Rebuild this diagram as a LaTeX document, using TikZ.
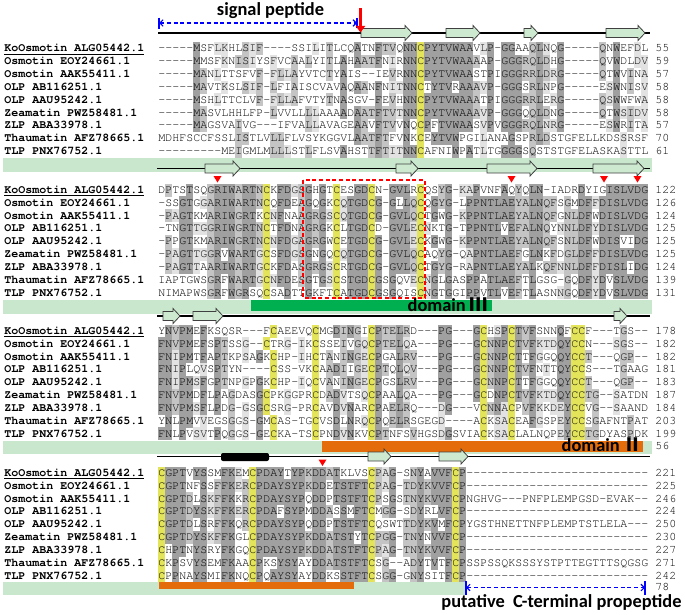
\documentclass[tikz,border=0pt]{standalone}
\usepackage{fontspec}
\usepackage{xcolor}
\usepackage{tikz}
\usetikzlibrary{arrows.meta}
\setmainfont{Carlito}
\setmonofont{texgyrecursor}[Extension=.otf,UprightFont=*-regular,BoldFont=*-bold]
\newfontfamily\cjkfont{Noto Sans CJK SC}

\definecolor{bandgreen}{RGB}{201,231,205}
\definecolor{strandgreen}{RGB}{205,234,208}
\definecolor{domgreen}{RGB}{0,176,80}
\definecolor{domorange}{RGB}{228,108,10}
\definecolor{cysyellow}{RGB}{228,228,90}
\definecolor{idgray}{RGB}{160,160,160}
\definecolor{midgray}{RGB}{196,196,196}
\definecolor{lowgray}{RGB}{226,226,226}

\tikzset{
  seqtxt/.style={anchor=base west,inner sep=0pt,font=\ttfamily\fontsize{8.75}{10}\selectfont},
  seqname/.style={seqtxt,font=\ttfamily\bfseries\fontsize{8.75}{10}\selectfont},
  tagtext/.style={anchor=base,inner sep=0pt,text height=8pt,text depth=2pt,
    font=\bfseries\fontsize{13.8}{16}\selectfont},
  strand/.style={draw=black!75,fill=strandgreen,line width=0.6},
  site/.style={fill=red},
  dashblue/.style={blue,line width=0.8,dash pattern=on 3pt off 2pt},
}

% one shaded cell of the alignment
\newcommand\alncell[3]{\fill[#1] (#2,#3) rectangle ++(7.1,13);}

\ExplSyntaxOn
\seq_new:N \l__aln_rows_seq
\str_new:N \l__aln_col_str
\tl_new:N \l__aln_char_tl
\tl_new:N \l__aln_fill_tl
\int_new:N \l__aln_count_int
\int_step_inline:nn { 9 } { \str_new:c { l__aln_row_#1_str } }
\cs_new_protected:Npn \__aln_count:n #1
  {
    \int_zero:N \l__aln_count_int
    \str_map_inline:Nn \l__aln_col_str
      { \str_if_eq:nnT {##1} {#1} { \int_incr:N \l__aln_count_int } }
  }
\cs_generate_variant:Nn \__aln_count:n { V }
\cs_new_protected:Npn \__aln_cell:nnn #1#2#3
  {
    \tl_set:Nx \l__aln_char_tl { \str_item:Nn \l__aln_col_str {#2} }
    \tl_clear:N \l__aln_fill_tl
    \str_if_eq:VnF \l__aln_char_tl { - }
      {
        \__aln_count:V \l__aln_char_tl
        \int_compare:nNnTF \l__aln_count_int > 5
          { \tl_set:Nn \l__aln_fill_tl { idgray } }
          {
            \int_compare:nNnTF \l__aln_count_int > 3
              { \tl_set:Nn \l__aln_fill_tl { midgray } }
              {
                \int_compare:nNnT \l__aln_count_int > 2
                  { \tl_set:Nn \l__aln_fill_tl { lowgray } }
              }
          }
        \str_if_eq:VnT \l__aln_char_tl { C }
          {
            \int_compare:nNnT \l__aln_count_int > 2
              { \tl_set:Nn \l__aln_fill_tl { cysyellow } }
          }
      }
    \tl_if_empty:NF \l__aln_fill_tl
      {
        \use:x
          {
            \exp_not:N \alncell { \l__aln_fill_tl }
              { \fp_eval:n { 158 + 7 * (#1 - 1) } }
              { \fp_eval:n { #3 + 12.85 * (#2 - 1) - 6.45 } }
          }
      }
  }
\cs_new_protected:Npn \__aln_column:nn #1#2
  {
    \str_clear:N \l__aln_col_str
    \int_step_inline:nn { 9 }
      {
        \str_put_right:Nx \l__aln_col_str
          { \exp_args:Nc \str_item:Nn { l__aln_row_##1_str } {#1} }
      }
    \int_step_inline:nn { 9 } { \__aln_cell:nnn {#1} {##1} {#2} }
  }
\NewDocumentCommand \alnshade { m m }
  {
    \seq_set_from_clist:Nn \l__aln_rows_seq {#2}
    \seq_map_indexed_inline:Nn \l__aln_rows_seq
      { \str_set:cn { l__aln_row_##1_str } {##2} }
    \int_step_inline:nn { 70 } { \__aln_column:nn {##1} {#1} }
  }
\ExplSyntaxOff

\def\alnnames{KoOsmotin ALG05442.1,Osmotin EOY24661.1,Osmotin AAK55411.1,%
OLP AB116251.1,OLP AAU95242.1,Zeamatin PWZ58481.1,ZLP ABA33978.1,%
Thaumatin AFZ78665.1,TLP PNX76752.1}

% #1 block, #2 y of first row, #3 sequences, #4 residue numbers
\newcommand\alnblock[4]{%
  \alnshade{#2}{#3}%
  \foreach \nm [count=\r] in \alnnames
    \node[seqname] (n#1-\r) at (4,{#2+12.85*(\r-1)+3.3})
      {\ifnum\r=1 \underline{\ignorespaces\nm}\else\ignorespaces\nm\fi};
  \foreach \s [count=\r] in {#3}
    \node[seqtxt] (s#1-\r) at (158,{#2+12.85*(\r-1)+3.3}) {\ignorespaces\s};
  \foreach \n [count=\r] in {#4}
    \node[seqtxt] (c#1-\r) at (655,{#2+12.85*(\r-1)+3.3}) {\ignorespaces\n};
}

% beta strand arrow from x #1 to x #2 on the line at y #3
\newcommand\strandarrow[3]{%
  \draw[strand] (#1,#3-4.5) -- (#2-7,#3-4.5) -- (#2-7,#3-7.5) -- (#2,#3)
    -- (#2-7,#3+7.5) -- (#2-7,#3+4.5) -- (#1,#3+4.5) -- cycle;}
% red site mark above column at x #1, top y #2
\newcommand\sitemark[2]{\fill[site] (#1-4,#2) -- (#1+4,#2) -- (#1,#2+6.5) -- cycle;}

\begin{document}
\begin{tikzpicture}[x=0.75pt,y=0.75pt,yscale=-1,xscale=1]
\useasboundingbox (0,0) rectangle (685,614);

%Shape: Rectangle [bands]
\fill[bandgreen] (3,158) rectangle (652,172);
\fill[bandgreen] (3,300) rectangle (652,314);
\fill[domgreen] (251,300) rectangle (492,310.5);
\fill[bandgreen] (3,441) rectangle (652,454);
\fill[domorange] (322,441) rectangle (643,452);
\fill[bandgreen] (3,582) rectangle (465,595);
\fill[domorange] (159,582) rectangle (354,589);

% block 1
\alnblock{1}{48.5}{%
-----MSFLKHLSIF----SSILITLCQATNFTVQNNCPYTVWAAVLP-GGAAQLNQG-----QNWEFDL,%
-----MMSFKNISIYSFVCAALYITLAHAATFNIRNNCPYTVWAAAAP-GGGRQLDHG-----QVWDLDV,%
-----MANLTTSFVF-FLLAYVTCTYAIS--IEVRNNCPYTVWAASTPIGGGRRLDRG-----QTWVINA,%
-----MAVTKSLSIF-LFIAISCVAVAQAANFNITNNCTYTVRAAAVP-GGGSRLNPG-----ESWNISV,%
-----MSHLTTCLVF-FLLAFVTYTNASGV-FEVHNNCPYTVWAAATPIGGGRRLERG-----QSWWFWA,%
-----MASVLHHLFP-LVVLLLLAAAADAATFTVTNNCPYTVWAAAVP-GGGQQLDNG-----QTWSIDV,%
-----MAGSVAIVG---IFVALLAVAGEAAVFTVVNQCPFTVWAASVPVGGGRQLNRG-----ESWRITA,%
MDHFSCCFSSLISTLVLLFLVSYKGGVLAATFTFVNKCEYTVWPGILANAGSPRLDSTGFELLKDSSRSF,%
---------MEIGMLMLLLSTLFLSVAHSTTFTITNNCAFNIWPATLTGGGGSQSTSTGFELASKASTTL}%
{55,59,57,58,58,58,57,70,61}

% block 2
\alnblock{2}{190}{%
DPTSTSQGRIWARTNCKFDGSGHGTCESGDCN-GVLRCQSYG-KAPVNFAQYQLN-IADRDYIGISLVDG,%
-SSGTGGARIWARTNCQFDEAGQGKCQTGDCG-GLLQCQGYG-LPPNTLAEYALNQFSGMDFFDISLVDG,%
-PAGTKMARIWGRTKCNFNAAGRGSCQTGDCG-GVLQCTGWG-KPPNTLAEYALNQFGNLDFWDISLVDG,%
-TNGTTGGRIWGRTNCTFDNAGRGKCLTGDCD-GVLECNKTG-TPPNTLVEFALNQYNNLDFYDISLVDG,%
-PPGTKMARIWGRTNCNFDGAGRGWCETGDCG-GVLECKGWG-KPPNTLAEYALNQFSNLDFWDISVIDG,%
-PAGTTGGRVWARTGCSFDGSGNGQCQTGDCG-GVLQCAQYG-QAPNTLAEFGLNKFDGLDFFDISLVDG,%
-PAGTTAARIWARTGCKFDASGRGSCRTGDCG-GVLQCTGYG-RAPNTLAEYALKQFNNLDFFDISLIDG,%
IAPTGWSGRFWARTGCNFDESGTGSCSTGDCGSGQVECNGLGASPPATLAEFTLGSG-GQDFYDVSLVDG,%
NIMAPWSGRFWGRSQCSADTTGKFTCATGDCGSGQISCNGTGGIPPVTLVEFTLASNNGQDFYDVSLVDG}%
{122,126,124,125,125,125,124,139,131}

% block 3
\alnblock{3}{331}{%
YNVPMEFKSQSR---FCAEEVQCMGDINGICPTELRD---PG---GCHSPCTVFSNNQFCCF---TGS--,%
FNVPMEFSPTSSG--CTRG-IKCSSEIVGQCPTELQA---PG---GCNNPCTVFKTDQYCCN---SGS--,%
FNIPMTFAPTKPSAGKCHP-IHCTANINGECPGALRV---PG---GCNNPCTTFGGQQYCCT---QGP--,%
FNIPLQVSPTYN----CSS-VKCAADIIGECPTQLQV---PG---GCNNPCTVFNTTQYCCS---TGAAG,%
FNIPMSFGPTNPGPGKCHP-IQCVANINGECPGSLRV---PG---GCNNPCTTFGGQQYCCT---QGP--,%
FNVPMDFLPAGDASGCPKGGPRCDADVTSQCPAALQA---PG---GCDNPCTVFKTDQYCCTG--SATDN,%
FNVPMSFLPDG-GSGCSRG-PRCAVDVNARCPAELRQ---DG---VCNNACPVFKKDEYCCVG--SAAND,%
YNLPMVVEGSGGS-GMCAS-TGCVSDLNRQCPQELRSGEGD----ACKSACEAFGSPEYCCSGAFNTPAT,%
FNLPVSVTPQGGS-GECKA-TSCPNDVNKVCPTNFSVHGSDGSVIACKSACLALNQPEYCCTGDYASPDK}%
{178,182,182,181,183,187,184,203,199}

% block 4
\alnblock{4}{473}{%
CGPTVYSSMFKEMCPDAYTYPKDDATKLVSCPAG-SNYAVVFCP--------------------------,%
CGPTNFSSFFKERCPDAYSYPKDDETSTFTCPAG-TDYKVVFCP--------------------------,%
CGPTDLSKFFKKRCPDAYSYPQDDPTSTFTCPSGSTNYKVVFCPNGHVG---PNFPLEMPGSD-EVAK--,%
CGPTDYSKFFKERCPDAFSYPMDDASSMFTCMGG-SDYRLVFCP--------------------------,%
CGPTDLSRFFKQRCPDAYSYPQDDPTSTFTCQSWTTDYKVMFCPYGSTHNETTNFPLEMPTSTLELA---,%
CGPTDYSKFFKGLCPDAYSYPKDDATSTYTCPGG-TNYNVVFCP--------------------------,%
CHPTNYSRYFKGQCPDAYSYPKDDATSTFTCPAG-TNYKVVFCP--------------------------,%
CKPSVYSEMFKAACPKSYSYAYDDATSTFTCSG--ADYTVTFCPSSPSSQKSSSYSTPTTEGTTTSQGSG,%
CPPNAYSMIFKNQCPQAYSYAYDDKSSTFTCSGG-GNYSITFCP--------------------------}%
{221,225,246,224,250,230,227,271,242}

%Straight Lines [secondary structure]
\draw[line width=0.9] (158,33) -- (650,33);
\draw[line width=0.9] (157,168.5) -- (650,168.5);
\draw[line width=0.9] (157,316) -- (650,316);
\draw[line width=0.9] (157,456.5) -- (650,456.5);
\strandarrow{361}{412}{33}
\strandarrow{446}{480}{33}
\strandarrow{524}{538}{33}
\strandarrow{606}{645}{33}
\strandarrow{205}{240}{168.5}
\strandarrow{396}{418}{168.5}
\strandarrow{487}{537}{168.5}
\strandarrow{593}{644}{168.5}
\strandarrow{163}{180}{316}
\strandarrow{193}{223}{316}
\strandarrow{614}{627}{316}
\strandarrow{368}{391}{456.5}
\strandarrow{439}{468}{456.5}
%Shape: helix bar
\fill[black,rounded corners=1.5] (221,453) rectangle (269,461);

%Shape: Triangle [sites]
\sitemark{217.5}{176}
\sitemark{511.5}{176}
\sitemark{604}{176}
\sitemark{637.5}{176}
\sitemark{322.5}{459.5}

%Shape: Rectangle [dashed box]
\draw[red,line width=0.8,dash pattern=on 3pt off 2pt] (303,180) rectangle (425,298);

% Text Node
\node[tagtext] (sigpep) at (270.5,15) {signal peptide};
\coordinate (sp-l) at (159,23);
\coordinate (sp-r) at (357,23);
\draw[dashblue,{Straight Barb[length=2.5pt,width=5pt]}-{Straight Barb[length=2.5pt,width=5pt]}] (sp-l) -- (sp-r);
\draw[blue,line width=0.8] (159,17.5) -- (159,28.5);
\draw[blue,line width=0.8] (357,18) -- (357,28);
\coordinate (cut-top) at (360.5,8);
\coordinate (cut) at (360.5,32.5);
\draw[red,line width=2.2,-{Triangle[length=5pt,width=7pt]}] (cut-top) -- (cut);

% Text Node
\node[tagtext] (dom3) at (448,311) {domain {\cjkfont Ⅲ}};
% Text Node
\node[tagtext] (dom2) at (602,451.5) {domain {\cjkfont Ⅱ}};
\node[seqtxt] (len2) at (655,449.3) {56};
\node[seqtxt] (len3) at (655,590.8) {78};

% Text Node
\coordinate (cp-l) at (466,587.5);
\coordinate (cp-r) at (645,587.5);
\draw[dashblue,{Straight Barb[length=2.5pt,width=5pt]}-{Straight Barb[length=2.5pt,width=5pt]}] (cp-l) -- (cp-r);
\draw[blue,line width=0.8] (466,581) -- (466,595);
\draw[blue,line width=0.8] (645,581) -- (645,595);
\node[tagtext] (cprop) at (561.5,607.3) {putative\ \ C-terminal propeptide};

\end{tikzpicture}
\end{document}
